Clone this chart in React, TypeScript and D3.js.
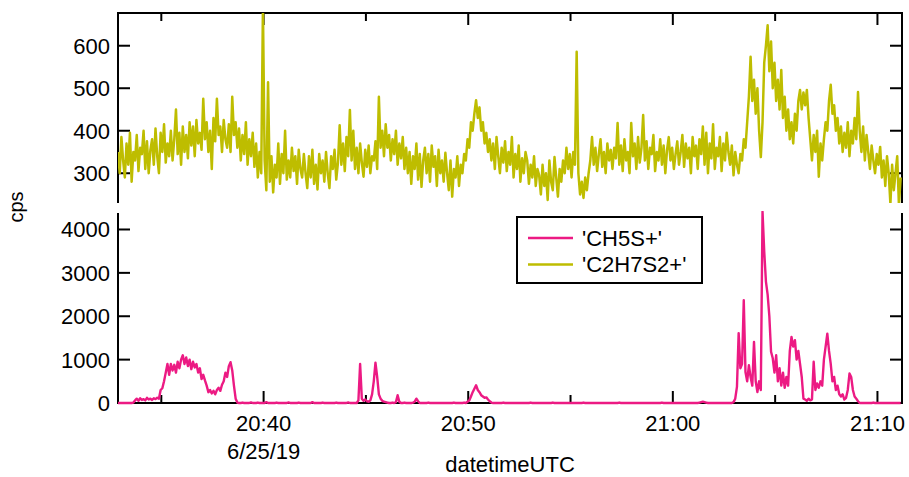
import * as d3 from 'd3';

// sampling: one point every 5 s from the start of the record
const startTime = '2019-06-25T20:32:53Z';
const endTime = '2019-06-25T21:11:12Z';
const stepSeconds = 5;

const seriesNames = ["'CH5S+'", "'C2H7S2+'"];
const seriesColors = ['#EC1A83', '#BEBD00'];

const topTicks = [300, 400, 500, 600];
const bottomTicks = [0, 1000, 2000, 3000, 4000];

// 'C2H7S2+' (top panel)
const c2h7s2 = [
  350, 300, 385, 330, 290, 370, 320, 395, 280, 350,
  330, 390, 305, 360, 345, 400, 310, 375, 300, 355,
  380, 320, 405, 340, 300, 395, 350, 415, 325, 370,
  340, 400, 330, 380, 450, 345, 395, 320, 410, 350,
  390, 335, 420, 365, 410, 340, 425, 370, 395, 355,
  475, 380, 420, 350, 400, 310, 430, 375, 475, 390,
  410, 350, 425, 380, 360, 415, 350, 480, 390, 420,
  360, 405, 330, 390, 345, 420, 320, 380, 340, 395,
  315, 370, 290, 350, 300, 690, 330, 260, 514, 280,
  340, 255, 320, 290, 370, 275, 345, 300, 400, 285,
  330, 290, 360, 305, 340, 275, 355, 310, 290, 345,
  300, 265, 340, 290, 355, 275, 320, 262, 345, 300,
  330, 280, 350, 300, 265, 340, 310, 355, 285, 325,
  413, 320, 370, 305, 385, 340, 449, 330, 400, 310,
  360, 300, 370, 325, 292, 355, 315, 365, 300, 340,
  330, 375, 310, 480, 360, 400, 340, 415, 360, 390,
  330, 380, 345, 400, 320, 370, 335, 385, 310, 360,
  300, 350, 275, 340, 310, 370, 285, 345, 268, 330,
  360, 300, 345, 280, 365, 315, 340, 270, 355, 300,
  330, 280, 348, 300, 260, 330, 245, 310, 290, 340,
  270, 320, 300, 345, 330, 380, 360, 420, 400, 440,
  472, 430, 455, 400, 420, 370, 395, 350, 380, 330,
  370, 310, 385, 340, 300, 360, 325, 375, 305, 350,
  320, 385, 290, 345, 310, 365, 280, 335, 300, 350,
  330, 275, 320, 290, 340, 270, 310, 295, 250, 320,
  270, 300, 237, 330, 280, 260, 338, 290, 245, 310,
  280, 330, 300, 360, 310, 345, 290, 350, 320, 586,
  300, 250, 280, 242, 290, 260, 300, 330, 385, 320,
  360, 305, 345, 380, 315, 350, 300, 370, 330, 355,
  310, 360, 335, 418, 320, 365, 305, 380, 330, 350,
  300, 418, 340, 370, 310, 385, 325, 360, 437, 330,
  375, 310, 360, 345, 390, 305, 350, 330, 380, 320,
  365, 300, 355, 385, 330, 360, 310, 345, 375, 320,
  350, 390, 315, 370, 335, 360, 300, 385, 340, 365,
  310, 380, 345, 410, 320, 395, 300, 370, 335, 415,
  310, 360, 340, 385, 305, 370, 330, 395, 350, 320,
  365, 295, 350, 320, 300, 345, 330, 380, 360, 420,
  480, 574, 470, 520, 440, 500, 400, 338, 420, 560,
  600, 648, 540, 610, 500, 560, 470, 520, 450, 543,
  430, 480, 400, 450, 380, 420, 370, 440, 400, 470,
  496, 450, 490, 460, 496, 430, 380, 330, 390, 350,
  400, 292, 370, 330, 380, 420, 400, 470, 508, 440,
  460, 400, 430, 370, 410, 350, 395, 360, 420, 340,
  400, 370, 430, 380, 491, 400, 350, 410, 330, 390,
  350, 310, 365, 330, 300, 345, 320, 362, 290, 330,
  270, 340, 300, 228, 320, 260, 300, 340, 225, 290,
];

// 'CH5S+' (bottom panel)
const ch5s = [
  0, 0, 0, 0, 0, 0, 0, 0, 0, 10,
  60, 100, 50, 110, 70, 90, 60, 120, 80, 100,
  70, 110, 90, 120, 100, 300, 340, 500, 700, 900,
  650, 900, 750, 880, 700, 950, 800, 1000, 1100, 900,
  1050, 850, 1000, 780, 950, 820, 900, 700, 800, 550,
  650, 520, 400, 250, 300, 220, 280, 200, 300, 350,
  280, 420, 500, 700, 600, 850, 940, 750, 400, 100,
  10, 0, 0, 10, 0, 0, 0, 0, 15, 0,
  0, 0, 10, 0, 0, 0, 0, 20, 0, 0,
  0, 0, 0, 10, 0, 0, 0, 0, 0, 0,
  15, 0, 0, 0, 0, 0, 10, 0, 0, 0,
  0, 0, 0, 0, 20, 0, 0, 0, 0, 0,
  10, 0, 0, 0, 0, 0, 0, 0, 10, 0,
  0, 0, 0, 0, 0, 15, 0, 0, 0, 0,
  0, 60, 900, 100, 50, 80, 40, 30, 60, 200,
  500, 930, 600, 200, 100, 50, 30, 20, 10, 0,
  0, 10, 0, 20, 180, 30, 0, 0, 10, 0,
  0, 0, 0, 10, 30, 100, 40, 0, 0, 0,
  0, 0, 10, 0, 0, 0, 0, 0, 0, 0,
  0, 0, 0, 0, 0, 0, 0, 10, 0, 0,
  0, 0, 0, 10, 0, 30, 60, 150, 250, 330,
  410, 300, 250, 180, 150, 120, 130, 80, 40, 10,
  0, 0, 0, 0, 0, 0, 10, 0, 0, 0,
  0, 0, 0, 0, 0, 0, 0, 0, 0, 0,
  0, 0, 10, 0, 0, 0, 0, 0, 0, 0,
  0, 0, 0, 0, 0, 10, 0, 0, 0, 0,
  0, 0, 0, 0, 0, 0, 0, 0, 0, 0,
  0, 0, 0, 10, 0, 0, 0, 0, 0, 0,
  0, 0, 0, 0, 0, 0, 0, 0, 0, 0,
  0, 0, 0, 0, 10, 0, 0, 0, 0, 0,
  0, 0, 0, 0, 0, 0, 0, 0, 0, 0,
  0, 0, 0, 0, 0, 0, 0, 0, 0, 10,
  0, 0, 0, 0, 0, 0, 0, 0, 0, 0,
  0, 0, 0, 0, 0, 0, 0, 0, 0, 0,
  0, 10, 20, 30, 20, 10, 0, 0, 0, 0,
  0, 0, 0, 0, 0, 0, 0, 0, 0, 0,
  0, 20, 100, 370, 1610, 800, 900, 2370, 716, 500,
  870, 600, 400, 1410, 500, 250, 500, 300, 4410, 3490,
  2800, 2500, 2000, 1180, 1030, 700, 1100, 500, 800, 400,
  700, 350, 600, 400, 1200, 1525, 1300, 1450, 1000, 1200,
  900, 600, 100, 80, 50, 100, 60, 80, 950, 300,
  450, 350, 500, 400, 1000, 1300, 1600, 1200, 900, 500,
  600, 300, 400, 200, 150, 200, 80, 120, 300, 680,
  600, 300, 150, 100, 40, 0, 0, 0, 0, 0,
  0, 0, 0, 10, 0, 0, 0, 0, 0, 0,
  0, 0, 0, 0, 0, 0, 0, 0, 0, 0,
];

const W = 909;
const H = 477;
const left = 118;
const right = 902;
const topPanel = { y0: 13, y1: 203 };
const botPanel = { y0: 213, y1: 403 };
const font = "'Liberation Sans', Arial, Helvetica, sans-serif";
const fs = 22;

export default function App() {
  const t0 = new Date(startTime);
  const x = d3.scaleUtc().domain([t0, new Date(endTime)]).range([left, right]);
  const yTop = d3.scaleLinear().domain([230, 677]).range([topPanel.y1, topPanel.y0]);
  const yBot = d3.scaleLinear().domain([0, 4380]).range([botPanel.y1, botPanel.y0]);

  const timeAt = (i: number) => new Date(t0.getTime() + i * stepSeconds * 1000);

  const lineTop = d3
    .line<number>()
    .x((_, i) => x(timeAt(i)))
    .y((d) => yTop(d));
  const lineBot = d3
    .line<number>()
    .x((_, i) => x(timeAt(i)))
    .y((d) => yBot(d));

  const xTicks = x.ticks(d3.utcMinute.every(5) as any);
  const fmt = d3.utcFormat('%H:%M');

  const yAxis = (
    scale: d3.ScaleLinear<number, number>,
    ticks: number[],
    y0: number,
    y1: number,
    key: string
  ) => (
    <g key={key}>
      <line x1={left} x2={left} y1={y0} y2={y1} stroke="#000" strokeWidth={2} />
      <line x1={right} x2={right} y1={y0} y2={y1} stroke="#000" strokeWidth={2} />
      {ticks.map((t) => (
        <g key={t}>
          <line x1={left} x2={left + 12} y1={scale(t)} y2={scale(t)} stroke="#000" strokeWidth={2} />
          <line x1={right} x2={right - 12} y1={scale(t)} y2={scale(t)} stroke="#000" strokeWidth={2} />
          <text x={left - 8} y={scale(t)} dy="0.36em" textAnchor="end">
            {t}
          </text>
        </g>
      ))}
    </g>
  );

  return (
    <svg
      width={W}
      height={H}
      style={{ position: 'absolute', left: 0, top: 0, background: '#fff' }}
      fontFamily={font}
      fontSize={fs}
    >
      <defs>
        <clipPath id="clip-top">
          <rect x={left} y={topPanel.y0} width={right - left} height={topPanel.y1 - topPanel.y0} />
        </clipPath>
        <clipPath id="clip-bot">
          <rect x={left} y={botPanel.y0 - 2} width={right - left} height={botPanel.y1 - botPanel.y0 + 4} />
        </clipPath>
      </defs>

      {/* frame */}
      <line x1={left - 1} x2={right + 1} y1={topPanel.y0} y2={topPanel.y0} stroke="#000" strokeWidth={2} />
      <line x1={left - 1} x2={right + 1} y1={botPanel.y1} y2={botPanel.y1} stroke="#000" strokeWidth={2} />
      {yAxis(yTop, topTicks, topPanel.y0, topPanel.y1, 'top')}
      {yAxis(yBot, bottomTicks, botPanel.y0, botPanel.y1, 'bot')}

      {/* time ticks */}
      {xTicks.map((t) => {
        const major = t.getUTCMinutes() % 10 === 0;
        const len = major ? 12 : 8;
        return (
          <g key={t.getTime()}>
            <line x1={x(t)} x2={x(t)} y1={topPanel.y0} y2={topPanel.y0 + len} stroke="#000" strokeWidth={2} />
            <line x1={x(t)} x2={x(t)} y1={botPanel.y1} y2={botPanel.y1 - len} stroke="#000" strokeWidth={2} />
            {major && (
              <text x={x(t)} y={431} textAnchor="middle">
                {fmt(t)}
              </text>
            )}
          </g>
        );
      })}
      <text x={x(xTicks[1])} y={459} textAnchor="middle">
        6/25/19
      </text>
      <text x={(left + right) / 2} y={472} textAnchor="middle">
        datetimeUTC
      </text>
      <text transform="translate(23,207) rotate(-90)" textAnchor="middle" fontSize={20}>
        cps
      </text>

      {/* data */}
      <path
        d={lineTop(c2h7s2) || ''}
        fill="none"
        stroke={seriesColors[1]}
        strokeWidth={2.5}
        strokeLinejoin="round"
        clipPath="url(#clip-top)"
      />
      <path
        d={lineBot(ch5s) || ''}
        fill="none"
        stroke={seriesColors[0]}
        strokeWidth={2.4}
        strokeLinejoin="round"
        clipPath="url(#clip-bot)"
      />

      {/* legend */}
      <rect x={517} y={217} width={185} height={66} fill="#fff" stroke="#000" strokeWidth={2} />
      {seriesNames.map((name, i) => (
        <g key={name}>
          <line x1={528} x2={573} y1={238 + i * 26.5} y2={238 + i * 26.5} stroke={seriesColors[i]} strokeWidth={2.4} />
          <text x={582} y={238 + i * 26.5} dy="0.36em">
            {name}
          </text>
        </g>
      ))}
    </svg>
  );
}
